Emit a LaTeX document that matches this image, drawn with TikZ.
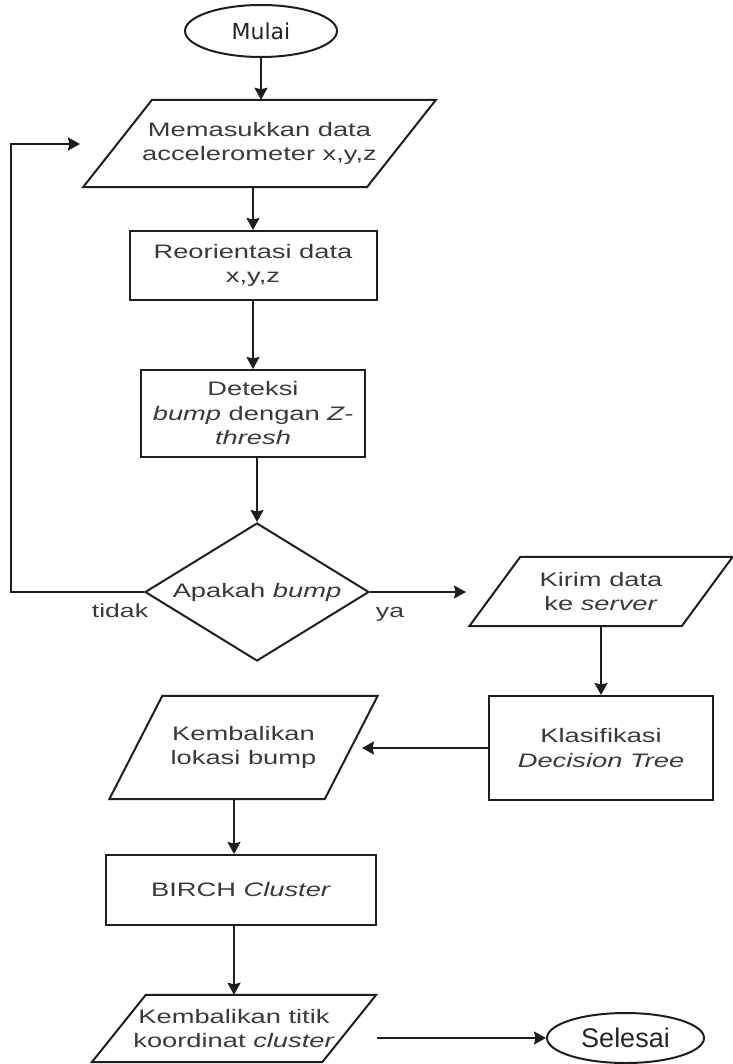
\documentclass[tikz,border=0pt]{standalone}
\usepackage{fontspec}
\setmainfont{Liberation Sans}[FakeStretch=1.4]
\newfontfamily\mulaifont{DejaVu Sans}
\newfontfamily\endfont{Liberation Sans}
\usetikzlibrary{shapes.geometric,arrows.meta}
\definecolor{linec}{HTML}{1E1E1E}
\definecolor{textc}{HTML}{3A3A3A}
\newcommand\drawpara[2]{\draw[shapeline] ([xshift=-#2]#1.south west) -- ([xshift=#2]#1.north west) -- ([xshift=#2]#1.north east) -- ([xshift=-#2]#1.south east) -- cycle;}
\begin{document}
\begin{tikzpicture}[x=1pt,y=-1pt,
  shapeline/.style={draw=linec,line width=2pt,line join=miter},
  bodytext/.style={text=textc,font=\fontsize{19.5}{24.5}\selectfont,align=center,inner sep=0pt},
  procbox/.style={bodytext,shapeline,rectangle},
  iobox/.style={bodytext,rectangle},
  termbox/.style={shapeline,ellipse,inner sep=0pt},
  decbox/.style={bodytext,shapeline,diamond,shape aspect=1.62},
  arr/.style={draw=linec,line width=2pt,-{Stealth[length=12pt,width=13pt,inset=1.5pt]}},
  lbl/.style={text=textc,font=\fontsize{19}{22}\selectfont,inner sep=0pt,anchor=base}
]
\useasboundingbox (0,0) rectangle (732,1064);
\fill[white] (0,0) rectangle (732,1064);

% terminals
\node[termbox,minimum width=152pt,minimum height=52pt,font=\mulaifont\fontsize{22}{26}\selectfont,text=black!85] (mulai) at (261,31) {Mulai};
\node[termbox,minimum width=157pt,minimum height=50pt,font=\endfont\fontsize{27}{30}\selectfont,text=black!85] (selesai) at (625.5,1038) {Selesai};

% input / output
\node[iobox,minimum width=283.5pt,minimum height=87pt] (p1) at (259.5,143.5) {Memasukkan data\\accelerometer x,y,z};
\drawpara{p1}{34.5pt}

\node[procbox,minimum width=247pt,minimum height=69pt] (b1) at (253,265.5) {Reorientasi data\\x,y,z};
\node[procbox,minimum width=224pt,minimum height=87pt] (b2) at (253,413.5) {Deteksi\\\textit{bump} dengan \textit{Z-}\\\textit{thresh}};

\node[decbox,minimum width=224pt,minimum height=138pt] (dec) at (257,592) {Apakah \textit{bump}};

\node[iobox,minimum width=212pt,minimum height=69pt] (kirim) at (601,591.5) {Kirim data\\ ke \textit{server}};
\drawpara{kirim}{25.5pt}

\node[procbox,minimum width=224pt,minimum height=104pt] (klas) at (601,748) {Klasifikasi\\\textit{Decision Tree}};

\node[iobox,minimum width=215pt,minimum height=103pt] (klb) at (243.5,747.5) {Kembalikan\\lokasi bump};
\drawpara{klb}{26.5pt}

\node[procbox,minimum width=270pt,minimum height=70pt] (birch) at (241,890) {BIRCH \textit{Cluster}};

\node[iobox,minimum width=230pt,minimum height=67pt] (p3) at (234,1028.5) {Kembalikan titik\\koordinat \textit{cluster}};
\drawpara{p3}{27pt}

% labels
\node[lbl] (tidak) at (120,617) {tidak};
\node[lbl] (ya) at (390,617) {ya};

% free ends
\coordinate (loopend) at (80,144);
\coordinate (yaend) at (466,592);
\coordinate (klend) at (362,750);
\coordinate (p3out) at (377,1038);

% connectors
\draw[arr] (mulai.south) -- (mulai.south |- p1.north);
\draw[arr] (b1.north |- p1.south) -- (b1.north);
\draw[arr] (b1.south) -- (b1.south |- b2.north);
\draw[arr] (dec.north |- b2.south) -- (dec.north);
\draw[arr] (dec.west) -- ++(-133,0) |- (loopend);
\draw[arr] (dec.east) -- (yaend);
\draw[arr] (kirim.south) -- (kirim.south |- klas.north);
\draw[arr] (klas.west) -- (klas.west -| klend);
\draw[arr] (p3.north |- klb.south) -- (p3.north |- birch.north);
\draw[arr] (p3.north |- birch.south) -- (p3.north);
\draw[arr] (p3out) -- (selesai.west);
\end{tikzpicture}
\end{document}
